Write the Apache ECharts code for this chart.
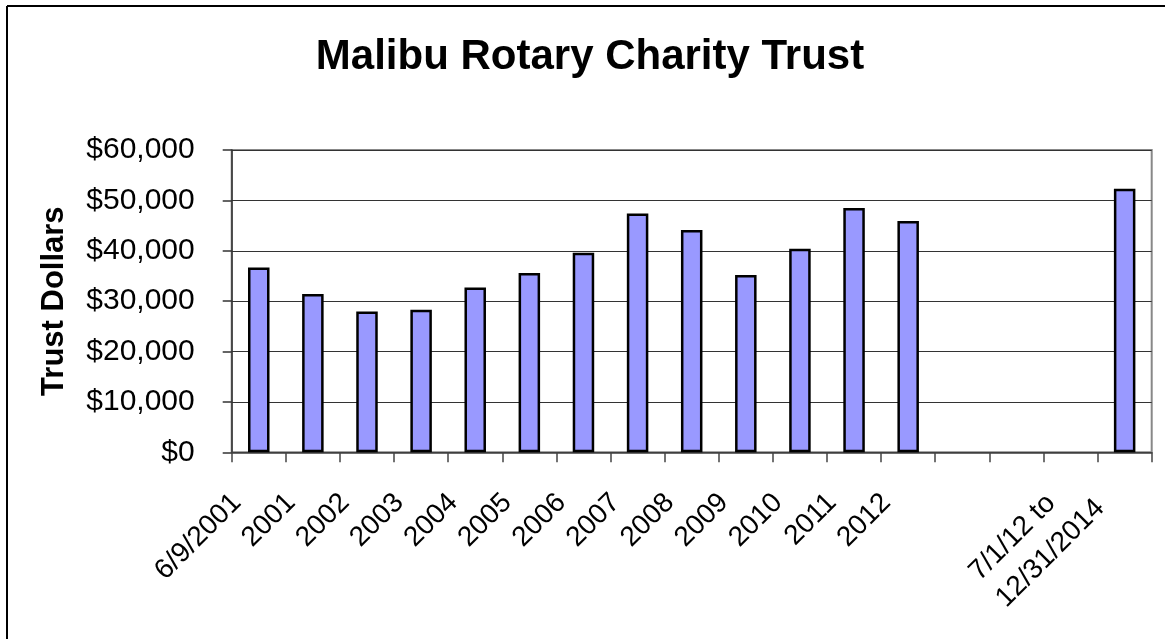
<!DOCTYPE html>
<html>
<head>
<meta charset="utf-8">
<script src="https://cdn.jsdelivr.net/npm/echarts@6/dist/echarts.min.js"></script>
<style>
  html, body { margin: 0; padding: 0; background: #fff; }
  #chart { width: 1165px; height: 639px; }
</style>
</head>
<body>
<div id="chart"></div>
<script>
const titleText = 'Malibu Rotary Charity Trust';
const yAxisTitle = 'Trust Dollars';
const categories = ['6/9/2001', '2001', '2002', '2003', '2004', '2005', '2006', '2007', '2008', '2009', '2010', '2011', '2012', '', '', '', '7/1/12 to\n12/31/2014'];
const trustDollars = [36700, 31400, 27950, 28300, 32700, 35600, 39600, 47400, 44100, 35200, 40400, 48500, 45900, null, null, null, 52300];
const yTicks = { min: 0, max: 60000, interval: 10000 };

const FONT = '"Liberation Sans", Arial, sans-serif';
const XFS = 28;
const chart = echarts.init(document.getElementById('chart'));

chart.setOption({
  animation: false,
  backgroundColor: '#fff',
  title: {
    text: titleText,
    left: 585,
    top: 31,
    textAlign: 'center',
    textStyle: { fontFamily: FONT, fontSize: 42, fontWeight: 'bold', color: '#000' }
  },
  graphic: [
    { type: 'line', shape: { x1: 7, y1: 6, x2: 7, y2: 639 }, style: { stroke: '#000', lineWidth: 2 } },
    { type: 'line', shape: { x1: 7, y1: 6, x2: 1165, y2: 6 }, style: { stroke: '#000', lineWidth: 2 } }
  ],
  grid: {
    left: 231.7, right: 13.3, top: 150, bottom: 186.7,
    outerBoundsMode: 'none',
    containLabel: false,
    show: true, borderColor: '#888', borderWidth: 2, backgroundColor: 'transparent'
  },
  xAxis: {
    type: 'category',
    data: categories,
    boundaryGap: true,
    axisLine: { show: true, lineStyle: { color: '#444', width: 1.5 } },
    axisTick: { show: true, alignWithLabel: false, length: 10, inside: false, lineStyle: { color: '#444', width: 1.5 }, interval: 0 },
    axisLabel: {
      interval: 0, rotate: 45, margin: 24, padding: [0, 31, 0, 0],
      hideOverlap: false,
      fontFamily: FONT, fontSize: XFS, color: '#000',
      formatter: v => v.indexOf('\n') >= 0
        ? v.split('\n').map(s => '{l|' + s + '}').join('\n') + '\n{e| }'
        : v,
      rich: {
        l: { fontFamily: FONT, fontSize: XFS, color: '#000', lineHeight: 38, align: 'left' },
        e: { fontFamily: FONT, fontSize: XFS, lineHeight: 34, width: 146, align: 'left' }
      }
    },
    splitLine: { show: false }
  },
  yAxis: {
    type: 'value',
    min: yTicks.min, max: yTicks.max, interval: yTicks.interval,
    name: yAxisTitle,
    nameLocation: 'middle',
    nameRotate: 90,
    nameGap: 162,
    nameTextStyle: { fontFamily: FONT, fontSize: 31, fontWeight: 'bold', color: '#000' },
    axisLine: { show: true, lineStyle: { color: '#333', width: 1.5 } },
    axisTick: { show: true, length: 9, lineStyle: { color: '#333', width: 1.5 } },
    axisLabel: {
      margin: 37,
      fontFamily: FONT, fontSize: 30, color: '#000',
      formatter: v => '$' + v.toLocaleString('en-US')
    },
    splitLine: { show: true, lineStyle: { color: '#333', width: 1.2 } }
  },
  series: [{
    type: 'bar',
    data: trustDollars,
    barWidth: 21.5,
    itemStyle: { color: '#9999FF', borderColor: '#000', borderWidth: 2.5 }
  }]
});
</script>
</body>
</html>
